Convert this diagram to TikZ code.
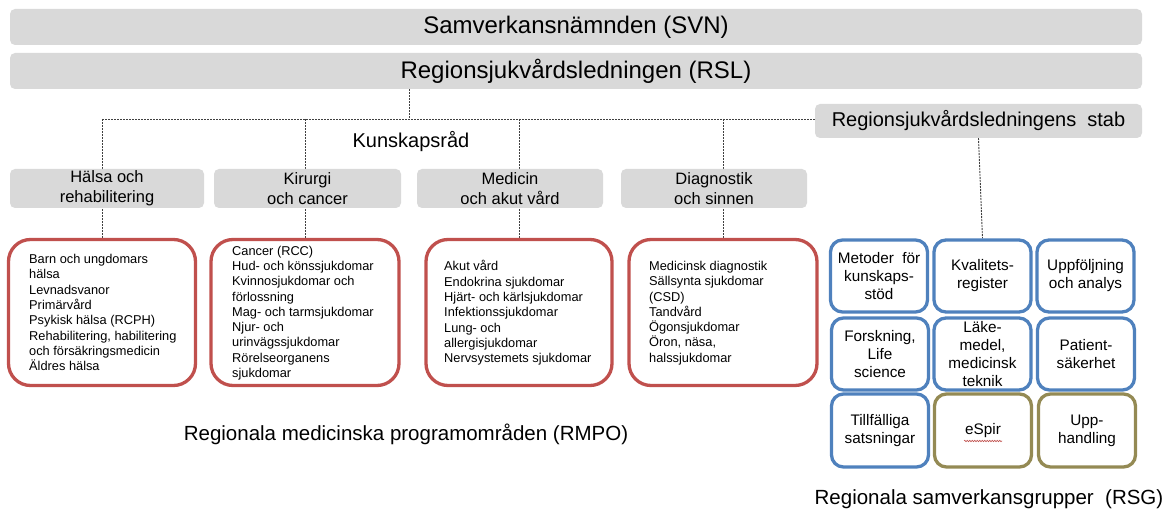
\documentclass[tikz,border=0pt]{standalone}
\usepackage{fontspec}
\setmainfont{Liberation Sans}
\usetikzlibrary{backgrounds,decorations.pathmorphing,calc}
\definecolor{boxgray}{HTML}{D9D9D9}
\definecolor{rmpored}{HTML}{C0504D}
\definecolor{rsgblue}{HTML}{4F81BD}
\definecolor{rsgolive}{HTML}{948A54}
\begin{document}
\begin{tikzpicture}[x=1pt,y=-1pt,
  graybox/.style={fill=boxgray, rounded corners=5pt, inner sep=0pt, align=center},
  bigtext/.style={font=\fontsize{24}{28}\selectfont},
  midtext/.style={font=\fontsize{20}{24}\selectfont},
  tiertext/.style={font=\fontsize{16.5}{20}\selectfont},
  tierbox/.style={graybox, tiertext, minimum height=39pt},
  rmpobox/.style={draw=rmpored, line width=3.3pt, rounded corners=22pt, minimum height=146pt, inner sep=0pt},
  rmpotext/.style={font=\fontsize{12.8}{15.3}\selectfont, align=left, anchor=west, inner sep=0pt},
  rsgbox/.style={draw=rsgblue, line width=3.3pt, rounded corners=12pt, minimum width=97pt, minimum height=72pt, inner sep=0pt, align=center, font=\fontsize{15.3}{18}\selectfont},
  rsgolivebox/.style={rsgbox, draw=rsgolive},
  conn/.style={draw=black!75, line width=0.9pt, dash pattern=on 2pt off 1pt},
  wavy/.style={draw=rmpored, line width=0.6pt, decorate, decoration={snake, amplitude=0.7pt, segment length=2.5pt}}
]
\useasboundingbox (0,0) rectangle (1165,510);

% top bars
\node[graybox, bigtext, minimum width=1132pt, minimum height=36pt] (svn) at (576,27) {Samverkansnämnden (SVN)};
\node[graybox, bigtext, minimum width=1132pt, minimum height=36pt] (rsl) at (576,71) {Regionsjukvårdsledningen (RSL)};

% stab
\node[graybox, midtext, minimum width=327pt, minimum height=34pt] (stab) at (978.5,121) {Regionsjukvårdsledningens\ \ stab};

% Kunskapsråd
\node[midtext, inner sep=0pt] (kr) at (411,142) {Kunskapsråd};

% tier boxes
\node[tierbox, minimum width=194pt] (t1) at (107,188.5) {Hälsa och\\rehabilitering};
\node[tierbox, minimum width=187pt] (t2) at (307.5,188.5) {Kirurgi\\och cancer};
\node[tierbox, minimum width=186pt] (t3) at (510,188.5) {Medicin\\och akut vård};
\node[tierbox, minimum width=186pt] (t4) at (714,188.5) {Diagnostik\\och sinnen};

% RMPO boxes
\node[rmpobox, minimum width=187pt] (r1) at (102,312.5) {};
\node[rmpobox, minimum width=188pt] (r2) at (305,312.5) {};
\node[rmpobox, minimum width=186pt] (r3) at (519,312.5) {};
\node[rmpobox, minimum width=188pt] (r4) at (723,312.5) {};

\node[rmpotext] (r1t) at (29,312.5) {Barn och ungdomars\\hälsa\\Levnadsvanor\\Primärvård\\Psykisk hälsa (RCPH)\\Rehabilitering, habilitering\\och försäkringsmedicin\\Äldres hälsa};
\node[rmpotext] (r2t) at (232,313) {Cancer (RCC)\\Hud- och könssjukdomar\\Kvinnosjukdomar och\\förlossning\\Mag- och tarmsjukdomar\\Njur- och\\urinvägssjukdomar\\Rörelseorganens\\sjukdomar};
\node[rmpotext] (r3t) at (444,313) {Akut vård\\Endokrina sjukdomar\\Hjärt- och kärlsjukdomar\\Infektionssjukdomar\\Lung- och\\allergisjukdomar\\Nervsystemets sjukdomar};
\node[rmpotext] (r4t) at (649,313) {Medicinsk diagnostik\\Sällsynta sjukdomar\\(CSD)\\Tandvård\\Ögonsjukdomar\\Öron, näsa,\\halssjukdomar};

\node[font=\fontsize{20.5}{24}\selectfont, anchor=base, inner sep=0pt] (rmpo) at (406,441) {Regionala medicinska programområden (RMPO)};

% RSG grid
\node[rsgbox] (g1) at (879,276) {Metoder\ \ för\\kunskaps-\\stöd};
\node[rsgbox] (g2) at (982.5,276) {Kvalitets-\\register};
\node[rsgbox] (g3) at (1085.5,276) {Uppföljning\\och analys};
\node[rsgbox] (g4) at (880,354) {Forskning,\\Life\\science};
\node[rsgbox] (g5) at (982.5,354) {Läke-\\medel,\\medicinsk\\teknik};
\node[rsgbox] (g6) at (1086,354) {Patient-\\säkerhet};
\node[rsgbox, minimum height=73pt] (g7) at (880,430.5) {Tillfälliga\\satsningar};
\node[rsgolivebox, minimum height=73pt] (g8) at (983,430.5) {eSpir};
\node[rsgolivebox, minimum height=73pt] (g9) at (1087,430.5) {Upp-\\handling};
\draw[wavy] ($(g8.center)+(-19,10.5)$) -- ($(g8.center)+(19,10.5)$);

\node[font=\fontsize{20.5}{24}\selectfont, anchor=base, inner sep=0pt] (rsg) at (989,504) {Regionala samverkansgrupper\ \ (RSG)};

% connectors
\begin{scope}[on background layer]
\coordinate (j) at (409,119);
\draw[conn] (rsl.south -| j) -- (j);
\draw[conn] (r1.north |- j) -- (j -| stab.west);
\foreach \i in {1,...,4} \draw[conn] (r\i.north |- j) -- (r\i.north);
\draw[conn] (stab.south) -- (g2.north);
\end{scope}
\end{tikzpicture}
\end{document}
